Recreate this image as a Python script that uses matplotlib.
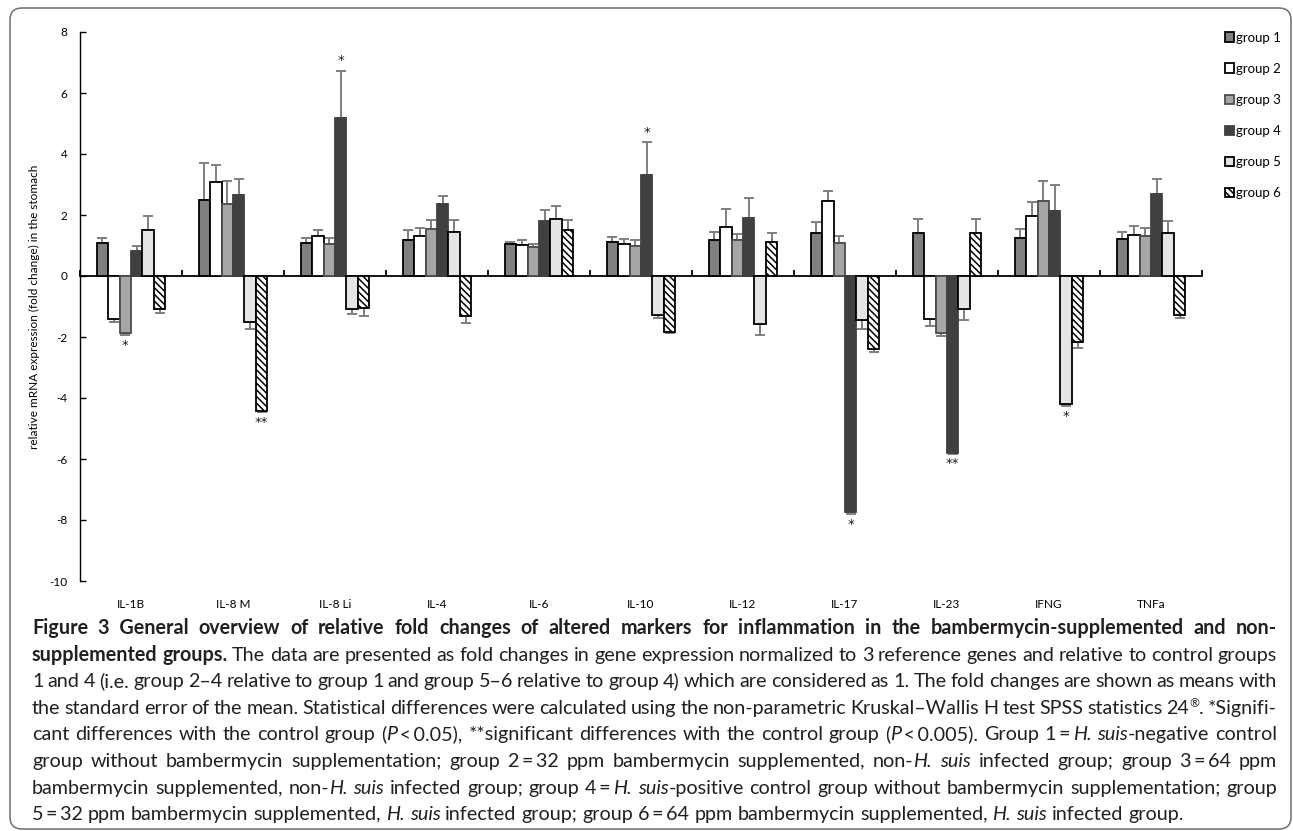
import matplotlib

matplotlib.use("Agg")

import matplotlib.pyplot as plt
import numpy as np
from matplotlib.patches import FancyBboxPatch

plt.rcParams["font.family"] = ["Lato", "DejaVu Sans"]
plt.rcParams["axes.unicode_minus"] = False
plt.rcParams["hatch.linewidth"] = 1.1
plt.rcParams["hatch.color"] = "black"

W_PX, H_PX, DPI = 1293, 831, 100

markers = ["IL-1B", "IL-8 M", "IL-8 Li", "IL-4", "IL-6", "IL-10",
           "IL-12", "IL-17", "IL-23", "IFNG", "TNFa"]
groups = ["group 1", "group 2", "group 3", "group 4", "group 5", "group 6"]

# mean fold change, one value per marker
group1 = [1.08, 2.48, 1.08, 1.19, 1.04, 1.10, 1.18, 1.41, 1.42, 1.26, 1.20]
group2 = [-1.42, 3.08, 1.32, 1.30, 1.01, 1.06, 1.62, 2.47, -1.42, 1.97, 1.34]
group3 = [-1.86, 2.35, 1.06, 1.54, 0.95, 0.98, 1.18, 1.08, -1.86, 2.46, 1.31]
group4 = [0.82, 2.64, 5.18, 2.37, 1.79, 3.30, 1.89, -7.75, -5.79, 2.14, 2.69]
group5 = [1.50, -1.51, -1.09, 1.43, 1.88, -1.29, -1.58, -1.45, -1.09, -4.19, 1.42]
group6 = [-1.07, -4.43, -1.04, -1.32, 1.52, -1.84, 1.10, -2.40, 1.42, -2.16, -1.27]

# standard error of the mean
sem1 = [0.17, 1.22, 0.17, 0.31, 0.07, 0.18, 0.25, 0.37, 0.44, 0.29, 0.24]
sem2 = [0.09, 0.57, 0.20, 0.28, 0.16, 0.15, 0.58, 0.32, 0.22, 0.45, 0.30]
sem3 = [0.09, 0.75, 0.19, 0.31, 0.09, 0.21, 0.19, 0.23, 0.12, 0.64, 0.26]
sem4 = [0.15, 0.53, 1.54, 0.26, 0.36, 1.08, 0.66, 0.05, 0.04, 0.85, 0.50]
sem5 = [0.46, 0.22, 0.14, 0.40, 0.40, 0.09, 0.35, 0.30, 0.34, 0.07, 0.39]
sem6 = [0.14, 0.03, 0.28, 0.21, 0.32, 0.02, 0.31, 0.09, 0.44, 0.20, 0.10]

# Kruskal-Wallis significance marks
sig_markers = ["IL-1B", "IL-8 M", "IL-8 Li", "IL-10", "IL-17", "IL-23", "IFNG"]
sig_groups = [3, 6, 4, 4, 4, 4, 5]
sig_labels = ["*", "**", "*", "*", "*", "**", "*"]

means = [group1, group2, group3, group4, group5, group6]
sems = [sem1, sem2, sem3, sem4, sem5, sem6]

styles = [
    dict(color="#7f7f7f", edgecolor="black"),
    dict(color="white", edgecolor="black"),
    dict(color="#a6a6a6", edgecolor="#4d4d4d"),
    dict(color="#404040", edgecolor="#404040"),
    dict(color="#e4e4e4", edgecolor="black"),
    dict(color="white", edgecolor="black", hatch="\\\\\\\\\\"),
]

caption_lines = [
    [("Figure 3\u2002General overview of relative fold changes of altered markers for "
      "inflammation in the bambermycin-supplemented and non-", "b")],
    [("supplemented groups.", "b"),
     (" The data are presented as fold changes in gene expression normalized to 3 "
      "reference genes and relative to control groups", "r")],
    [("1 and 4 (i.e. group 2\u20134 relative to group 1 and group 5\u20136 relative to "
      "group 4) which are considered as 1. The fold changes are shown as means with", "r")],
    [("the standard error of the mean. Statistical differences were calculated using "
      "the non-parametric Kruskal\u2013Wallis H test SPSS statistics 24", "r"),
     ("\u00ae", "s"), (". *Signifi-", "r")],
    [("cant differences with the control group (", "r"), ("P", "i"),
     ("\u2009<\u20090.05), **significant differences with the control group (", "r"),
     ("P", "i"), ("\u2009<\u20090.005). Group 1\u2009=\u2009", "r"), ("H. suis", "i"),
     ("-negative control", "r")],
    [("group without bambermycin supplementation; group 2\u2009=\u200932 ppm "
      "bambermycin supplemented, non-", "r"), ("H. suis", "i"),
     (" infected group; group 3\u2009=\u200964 ppm", "r")],
    [("bambermycin supplemented, non-", "r"), ("H. suis", "i"),
     (" infected group; group 4\u2009=\u2009", "r"), ("H. suis", "i"),
     ("-positive control group without bambermycin supplementation; group", "r")],
    [("5\u2009=\u200932 ppm bambermycin supplemented, ", "r"), ("H. suis", "i"),
     (" infected group; group 6\u2009=\u200964 ppm bambermycin supplemented, ", "r"),
     ("H. suis", "i"), (" infected group.", "r")],
]


def px_fig(x, y):
    return x / W_PX, 1 - y / H_PX


def text_props(style, size):
    if style == "b":
        return dict(fontsize=size, fontweight="bold")
    if style == "i":
        return dict(fontsize=size, fontstyle="italic")
    if style == "s":
        return dict(fontsize=size * 0.6)
    return dict(fontsize=size)


def split_words(runs):
    words, cur = [], []
    for text, style in runs:
        for ch in text:
            if ch == " ":
                if cur:
                    words.append(cur)
                    cur = []
            elif cur and cur[-1][1] == style:
                cur[-1][0] += ch
            else:
                cur.append([ch, style])
    if cur:
        words.append(cur)
    return words


def measure(fig, renderer, s, style, size):
    t = fig.text(0, 0, s, **text_props(style, size))
    w = t.get_window_extent(renderer).width
    t.remove()
    return w


def word_widths(fig, renderer, words, size):
    return [[measure(fig, renderer, s, st, size) for s, st in w] for w in words]


def draw_caption(fig, lines, x0, x1, base0, pitch):
    renderer = fig.canvas.get_renderer()
    avail = x1 - x0
    size = 14.5
    # shrink until every justified line keeps a sensible word gap
    while size > 9:
        ok = True
        for runs in lines[:-1]:
            words = split_words(runs)
            total = sum(sum(ws) for ws in word_widths(fig, renderer, words, size))
            if (avail - total) / (len(words) - 1) < size * 0.2:
                ok = False
                break
        if ok:
            break
        size -= 0.25

    space = measure(fig, renderer, "a a", "r", size) - measure(fig, renderer, "aa", "r", size)
    for k, runs in enumerate(lines):
        words = split_words(runs)
        widths = word_widths(fig, renderer, words, size)
        total = sum(sum(ws) for ws in widths)
        gap = space if k == len(lines) - 1 else (avail - total) / (len(words) - 1)
        base = base0 + k * pitch
        x = x0
        for w, ws in zip(words, widths):
            for (s, st), sw in zip(w, ws):
                dy = -size * 0.45 if st == "s" else 0
                fx, fy = px_fig(x, base + dy)
                fig.text(fx, fy, s, ha="left", va="baseline", color="#231f20",
                         **text_props(st, size))
                x += sw
            x += gap


fig = plt.figure(figsize=(W_PX / DPI, H_PX / DPI), dpi=DPI)
ax = fig.add_axes([80 / W_PX, 1 - 581 / H_PX, 1122 / W_PX, 549 / H_PX])

x = np.arange(len(markers))
width = 0.112
bars = []
for i, (vals, errs, st) in enumerate(zip(means, sems, styles)):
    vals = np.array(vals)
    errs = np.array(errs)
    pos = x + (i - 2.5) * width
    b = ax.bar(pos, vals, width, linewidth=1.3, zorder=3, label=groups[i], **st)
    bars.append(b)
    lower = np.where(vals < 0, errs, 0)
    upper = np.where(vals > 0, errs, 0)
    ax.errorbar(pos, vals, yerr=[lower, upper], fmt="none", ecolor="#7f7f7f",
                elinewidth=1.4, capsize=3.6, capthick=1.4, zorder=2)

for name, g, lab in zip(sig_markers, sig_groups, sig_labels):
    j = markers.index(name)
    v = means[g - 1][j]
    e = sems[g - 1][j]
    xs = j + (g - 3.5) * width
    if v > 0:
        ys = v + e + 0.12
        va = "bottom"
    else:
        ys = v - e - 0.12
        va = "top"
    ax.text(xs, ys, lab, ha="center", va=va, fontsize=9.5, color="#1a1a1a",
            family="DejaVu Sans")

ax.set_xlim(-0.5, len(markers) - 0.5)
ax.set_ylim(-10, 8)
ax.set_yticks(np.arange(-10, 9, 2))
ax.tick_params(axis="y", direction="in", length=4, width=1, pad=9, labelsize=8.5)
ax.set_ylabel("relative mRNA expression (fold change) in the stomach", fontsize=8.5, labelpad=7)

ax.spines["bottom"].set_position(("data", 0))
ax.spines["bottom"].set_linewidth(1.3)
ax.spines["left"].set_linewidth(1.0)
ax.spines["top"].set_visible(False)
ax.spines["right"].set_visible(False)
ax.set_xticks(np.arange(len(markers) + 1) - 0.5)
ax.tick_params(axis="x", direction="in", length=4, width=1.3, labelbottom=False)

sec = ax.secondary_xaxis("bottom")
sec.set_xticks(x)
sec.set_xticklabels(markers)
sec.tick_params(length=0, pad=13, labelsize=8.5)
sec.spines["bottom"].set_visible(False)

ax.legend(handles=bars, loc="upper left", bbox_to_anchor=px_fig(1218, 25),
          bbox_transform=fig.transFigure, frameon=False, fontsize=9.5,
          handlelength=0.7, handleheight=0.7, handletextpad=0.2,
          labelspacing=1.45, borderpad=0)

draw_caption(fig, caption_lines, 32, 1277, 634, 26.6)

frame = FancyBboxPatch((10 / DPI, 2 / DPI), 1281 / DPI, 821 / DPI,
                       boxstyle="round,pad=0,rounding_size=0.12",
                       transform=fig.dpi_scale_trans, fill=False,
                       edgecolor="#6d6e71", linewidth=1.1)
fig.patches.append(frame)

fig.savefig("out.png", dpi=DPI)
